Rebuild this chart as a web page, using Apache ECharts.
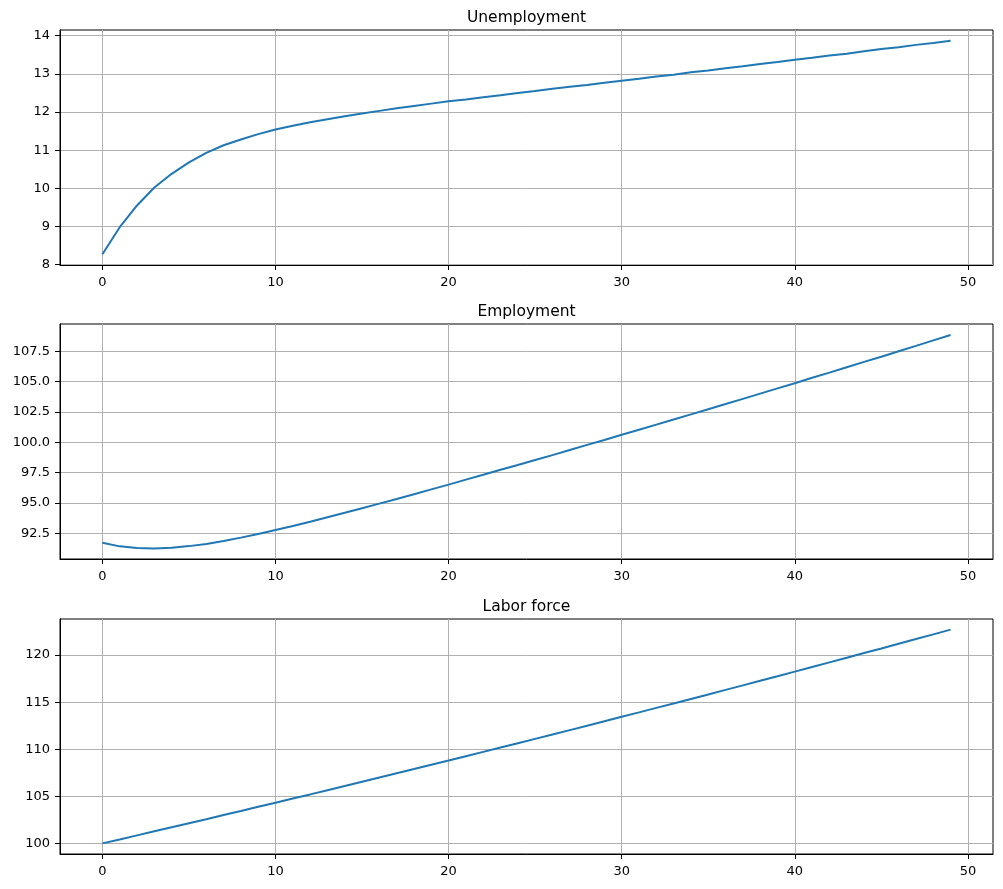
<!DOCTYPE html>
<html>
<head>
<meta charset="utf-8">
<script src="https://cdn.jsdelivr.net/npm/echarts@6/dist/echarts.min.js"></script>
<style>
html,body{margin:0;padding:0;background:#fff;}
#chart{width:1003px;height:889px;}
</style>
</head>
<body>
<div id="chart"></div>
<script>
const steps = [0,1,2,3,4,5,6,7,8,9,10,11,12,13,14,15,16,17,18,19,20,21,22,23,24,25,26,27,28,29,30,31,32,33,34,35,36,37,38,39,40,41,42,43,44,45,46,47,48,49];

const unemployment = [8.27,8.98,9.55,10.02,10.38,10.68,10.93,11.13,11.28,11.42,
  11.54,11.64,11.73,11.81,11.89,11.96,12.03,12.10,12.16,12.22,
  12.28,12.33,12.39,12.44,12.50,12.55,12.61,12.66,12.71,12.77,
  12.82,12.87,12.93,12.98,13.04,13.09,13.15,13.20,13.26,13.31,
  13.37,13.42,13.48,13.53,13.59,13.65,13.70,13.76,13.81,13.87];

const employment = [91.73,91.44,91.30,91.26,91.33,91.46,91.64,91.88,92.16,92.46,
  92.78,93.12,93.47,93.84,94.20,94.58,94.96,95.34,95.73,96.13,
  96.52,96.93,97.33,97.74,98.14,98.55,98.95,99.37,99.79,100.20,
  100.62,101.04,101.46,101.88,102.30,102.73,103.15,103.58,104.01,104.44,
  104.87,105.31,105.74,106.18,106.62,107.05,107.50,107.94,108.39,108.83];

const laborForce = [100.00,100.42,100.85,101.28,101.71,102.14,102.57,103.01,103.44,103.88,
  104.32,104.76,105.20,105.65,106.09,106.54,106.99,107.44,107.89,108.35,
  108.80,109.26,109.72,110.18,110.64,111.10,111.56,112.03,112.50,112.97,
  113.44,113.91,114.39,114.86,115.34,115.82,116.30,116.78,117.27,117.75,
  118.24,118.73,119.22,119.71,120.21,120.70,121.20,121.70,122.20,122.70];

const titles = ['Unemployment', 'Employment', 'Labor force'];
const xTicks = [0, 10, 20, 30, 40, 50];
const unempTicks = [8, 9, 10, 11, 12, 13, 14];
const empTicks = [92.5, 95, 97.5, 100, 102.5, 105, 107.5];
const laborTicks = [100, 105, 110, 115, 120];

const FONT = 'DejaVu Sans';
const gridTops = [30, 324, 619];
const gridH = 235;
const yRanges = [[7.99, 14.15], [90.40, 109.74], [98.87, 123.83]];
const yTickSets = [unempTicks, empTicks, laborTicks];
const yFormat = [v => String(v), v => v.toFixed(1), v => String(v)];
const seriesData = [unemployment, employment, laborForce];

const chart = echarts.init(document.getElementById('chart'), null, {renderer: 'canvas'});

const grids = [], xAxes = [], yAxes = [], series = [], titleOpts = [];
for (let i = 0; i < 3; i++) {
  grids.push({left: 60, top: gridTops[i], width: 933, height: gridH, show: true,
    borderColor: '#000', borderWidth: 1, containLabel: false, outerBoundsMode: 'none'});
  xAxes.push({type: 'value', gridIndex: i, min: -2.45, max: 51.45, position: 'bottom',
    axisLine: {show: true, onZero: false, lineStyle: {color: '#000', width: 1}},
    axisTick: {show: true, inside: false, length: 5, lineStyle: {color: '#000', width: 1}, customValues: xTicks},
    axisLabel: {show: true, customValues: xTicks, color: '#000', fontFamily: FONT, fontSize: 13, margin: 11,
      formatter: v => String(v)},
    splitLine: {show: true, lineStyle: {color: '#b0b0b0', width: 1}}});
  yAxes.push({type: 'value', gridIndex: i, min: yRanges[i][0], max: yRanges[i][1], position: 'left',
    axisLine: {show: true, onZero: false, lineStyle: {color: '#000', width: 1}},
    axisTick: {show: true, inside: false, length: 5, lineStyle: {color: '#000', width: 1}, customValues: yTickSets[i]},
    axisLabel: {show: true, customValues: yTickSets[i], color: '#000', fontFamily: FONT, fontSize: 13, margin: 10,
      formatter: yFormat[i]},
    splitLine: {show: true, lineStyle: {color: '#b0b0b0', width: 1}}});
  series.push({type: 'line', xAxisIndex: i, yAxisIndex: i, showSymbol: false, symbol: 'none',
    data: steps.map((s, k) => [s, seriesData[i][k]]),
    lineStyle: {color: '#1f77b4', width: 2}, itemStyle: {color: '#1f77b4'}, z: 3});
  titleOpts.push({text: titles[i], left: 526.5, textAlign: 'center', top: gridTops[i] - 20, padding: 0,
    textStyle: {fontFamily: FONT, fontSize: 15.5, fontWeight: 'normal', color: '#000'}});
}

chart.setOption({
  animation: false,
  backgroundColor: '#fff',
  title: titleOpts,
  grid: grids,
  xAxis: xAxes,
  yAxis: yAxes,
  series: series
});
</script>
</body>
</html>
